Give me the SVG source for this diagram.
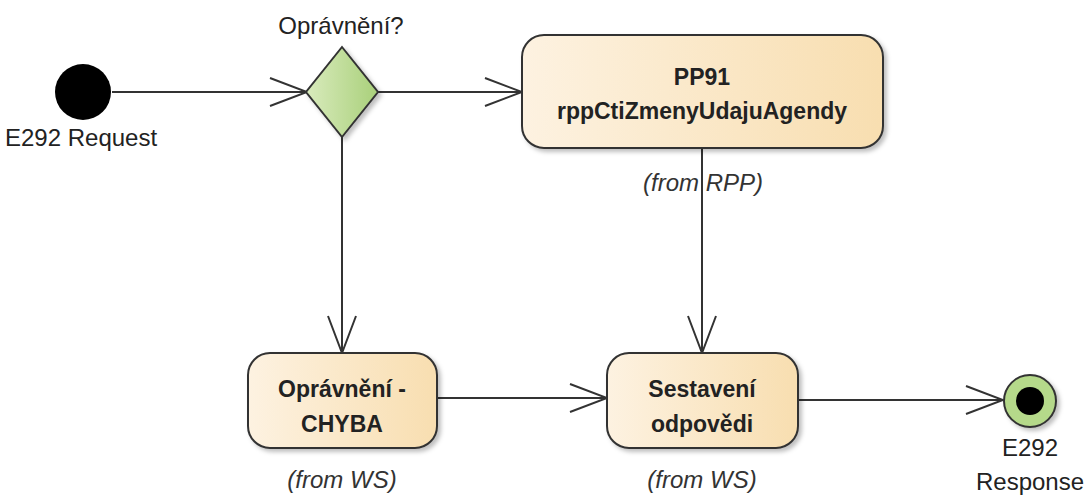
<svg xmlns="http://www.w3.org/2000/svg" width="1086" height="495" viewBox="0 0 1086 495">
<defs>
<linearGradient id="gAct" x1="0" y1="0" x2="1" y2="0">
<stop offset="0" stop-color="#fdf2e1"/>
<stop offset="1" stop-color="#f8deb0"/>
</linearGradient>
<linearGradient id="gDec" x1="0" y1="0" x2="1" y2="0">
<stop offset="0" stop-color="#d9ebbd"/>
<stop offset="1" stop-color="#a9d07a"/>
</linearGradient>
<filter id="sh" x="-10%" y="-10%" width="130%" height="130%">
<feDropShadow dx="3" dy="3" stdDeviation="2" flood-color="#000" flood-opacity="0.25"/>
</filter>
<marker id="arr" markerWidth="40" markerHeight="32" refX="38" refY="15" orient="auto" markerUnits="userSpaceOnUse">
<path d="M1,1 L38,15 L1,29" fill="none" stroke="#333" stroke-width="2"/>
</marker>
<style>
.t{font-family:"Liberation Sans",Arial,sans-serif;font-size:24px;fill:#222;}
.b{font-weight:bold;text-anchor:middle;font-size:23px;}
.i{font-style:italic;text-anchor:middle;fill:#333;font-size:24px;}
.c{text-anchor:middle;}
.act{fill:url(#gAct);stroke:#333;stroke-width:2;filter:url(#sh);}
.ln{fill:none;stroke:#333;stroke-width:2;marker-end:url(#arr);}
</style>
</defs>
<g id="connectors">
<path class="ln" d="M112,92 L307,92"/>
<path class="ln" d="M378,92 L522,92"/>
<path class="ln" d="M342,137 L342,353"/>
<path class="ln" d="M702,148 L702,353"/>
<path class="ln" d="M437,398 L607,398"/>
<path class="ln" d="M798,400 L1003,400"/>
</g>
<g id="start">
<circle cx="83" cy="92" r="28" fill="#000"/>
<text class="t" x="5" y="146">E292 Request</text>
</g>
<g id="decision">
<polygon points="342,47 378,92 342,137 306,92" fill="url(#gDec)" stroke="#333" stroke-width="2" filter="url(#sh)"/>
<text class="t c" x="341" y="34">Oprávnění?</text>
</g>
<g id="pp91">
<rect class="act" x="522" y="35" width="361" height="113" rx="22"/>
<text class="t b" x="702" y="85">PP91</text>
<text class="t b" x="702" y="119">rppCtiZmenyUdajuAgendy</text>
<text class="t i" x="703" y="191">(from RPP)</text>
</g>
<g id="chyba">
<rect class="act" x="248" y="353" width="189" height="95" rx="22"/>
<text class="t b" x="342" y="397">Oprávnění -</text>
<text class="t b" x="342" y="432">CHYBA</text>
<text class="t i" x="342" y="488">(from WS)</text>
</g>
<g id="sestaveni">
<rect class="act" x="607" y="353" width="191" height="95" rx="22"/>
<text class="t b" x="702" y="397">Sestavení</text>
<text class="t b" x="702" y="432">odpovědi</text>
<text class="t i" x="702" y="488">(from WS)</text>
</g>
<g id="end">
<circle cx="1030" cy="401" r="26" fill="#b5d98a" stroke="#333" stroke-width="2" filter="url(#sh)"/>
<circle cx="1030" cy="401" r="14" fill="#000"/>
<text class="t c" x="1030" y="456">E292</text>
<text class="t c" x="1030" y="490">Response</text>
</g>
</svg>
